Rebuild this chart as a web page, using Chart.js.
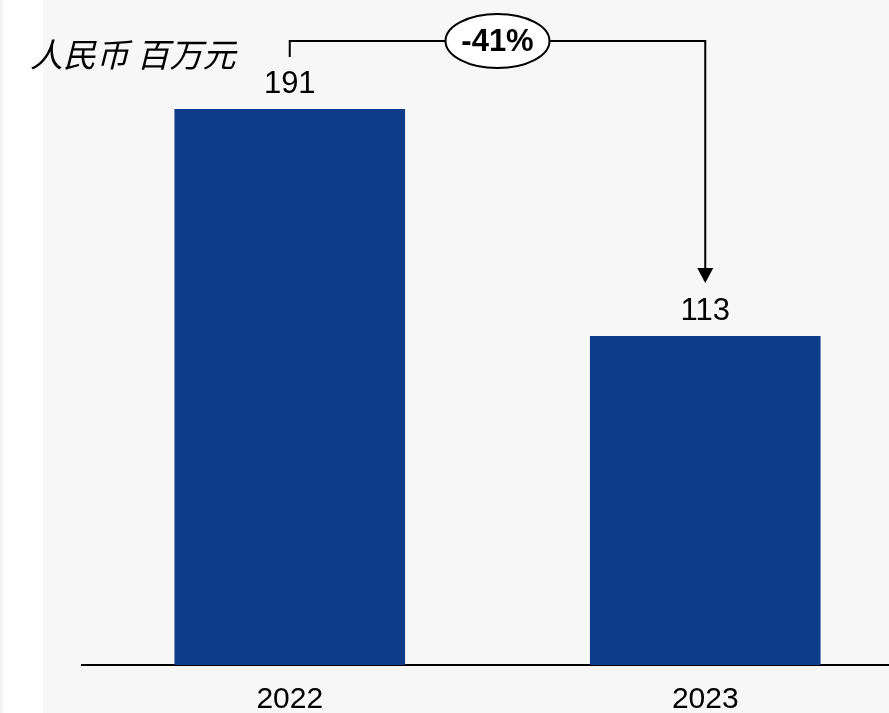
<!DOCTYPE html>
<html><head><meta charset="utf-8">
<script src="https://cdn.jsdelivr.net/npm/chart.js@4/dist/chart.umd.min.js"></script>
<style>
html,body{margin:0;padding:0;overflow:hidden;background:#fff;}
#wrap{position:absolute;left:0;top:0;width:913px;height:713px;}
</style></head>
<body>
<div id="wrap"><canvas id="c" width="913" height="713"></canvas></div>
<script>
const categories = ["2022", "2023"];
const values = [191, 113];
const unitLabel = "人民币 百万元";
const changeLabel = "-41%";

const FONT = "'Liberation Sans', Arial, sans-serif";
const BAR = "#0f3c8a";

const bgPlugin = {
  id: 'bg',
  beforeDraw(chart) {
    const ctx = chart.ctx;
    ctx.save();
    ctx.fillStyle = '#ffffff';
    ctx.fillRect(0, 0, chart.width, chart.height);
    ctx.fillStyle = '#f3f3f3';
    ctx.fillRect(0, 0, 3, chart.height);
    ctx.fillStyle = '#f7f7f7';
    ctx.fillRect(43, 0, chart.width - 43, chart.height);
    ctx.restore();
  }
};

const annPlugin = {
  id: 'ann',
  afterDatasetsDraw(chart) {
    const ctx = chart.ctx;
    const meta = chart.getDatasetMeta(0);
    ctx.save();
    // value labels
    ctx.fillStyle = '#000';
    ctx.font = "31px " + FONT;
    ctx.textAlign = 'center';
    ctx.textBaseline = 'bottom';
    meta.data.forEach((bar, i) => {
      ctx.fillText(String(values[i]), bar.x, bar.y - 9);
    });
    // unit label
    ctx.font = "italic 33px 'Noto Sans CJK SC', sans-serif";
    ctx.textAlign = 'left';
    ctx.textBaseline = 'middle';
    ctx.fillText(unitLabel, 30, 54);
    // bracket
    const b0 = meta.data[0], b1 = meta.data[1];
    const yTop = 41;
    const yStart = b0.y - 52;
    const yTip = b1.y - 53;
    ctx.strokeStyle = '#000';
    ctx.lineWidth = 2;
    ctx.beginPath();
    ctx.moveTo(b0.x, yStart);
    ctx.lineTo(b0.x, yTop);
    ctx.lineTo(b1.x, yTop);
    ctx.lineTo(b1.x, yTip - 14);
    ctx.stroke();
    ctx.fillStyle = '#000';
    ctx.beginPath();
    ctx.moveTo(b1.x - 8, yTip - 15);
    ctx.lineTo(b1.x + 8, yTip - 15);
    ctx.lineTo(b1.x, yTip);
    ctx.closePath();
    ctx.fill();
    // ellipse
    const cx = (b0.x + b1.x) / 2;
    ctx.beginPath();
    ctx.ellipse(cx, yTop, 52, 27, 0, 0, Math.PI * 2);
    ctx.fillStyle = '#fff';
    ctx.fill();
    ctx.stroke();
    ctx.fillStyle = '#000';
    ctx.font = "bold 31px " + FONT;
    ctx.textAlign = 'center';
    ctx.textBaseline = 'middle';
    ctx.fillText(changeLabel, cx, yTop + 1);
    ctx.restore();
  }
};

new Chart(document.getElementById('c'), {
  type: 'bar',
  data: {
    labels: categories,
    datasets: [{
      data: values,
      backgroundColor: BAR,
      borderWidth: 0,
      barPercentage: 0.555,
      categoryPercentage: 1.0
    }]
  },
  options: {
    responsive: false,
    animation: false,
    devicePixelRatio: 1,
    layout: { padding: { left: 82, right: 0, top: 0, bottom: 0 } },
    plugins: { legend: { display: false }, tooltip: { enabled: false }, title: { display: false } },
    scales: {
      x: {
        grid: { display: false, drawTicks: false },
        border: { display: true, color: '#000', width: 2 },
        ticks: { color: '#000', font: { size: 30, family: FONT }, padding: 17 },
        afterFit(scale) { scale.height = 48; }
      },
      y: {
        display: false,
        min: 0,
        max: 228.4
      }
    }
  },
  plugins: [bgPlugin, annPlugin]
});
</script>
</body></html>
